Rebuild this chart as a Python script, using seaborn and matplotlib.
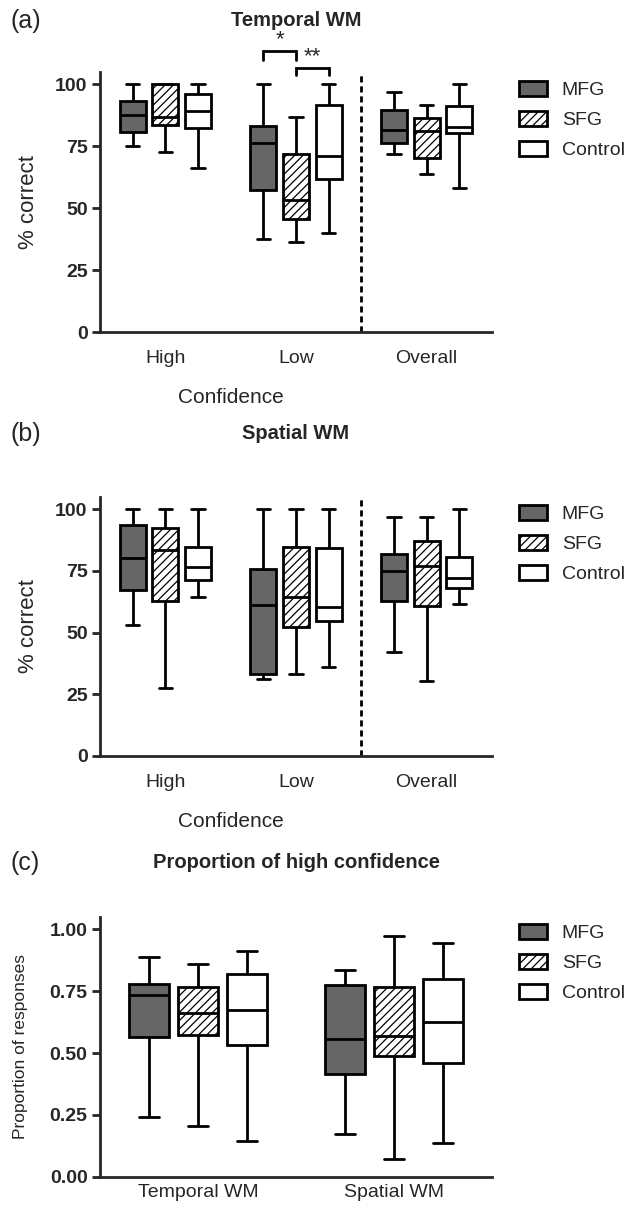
import numpy as np
import pandas as pd
import matplotlib
matplotlib.use("Agg")
import matplotlib.pyplot as plt
import seaborn as sns
from matplotlib.patches import Patch
from matplotlib.colors import same_color

# groups and categories
groups = ["MFG", "SFG", "Control"]
conf_cats = ["High", "Low", "Overall"]
task_cats = ["Temporal WM", "Spatial WM"]

# five-number summaries: [min, Q1, median, Q3, max]
# (a) Temporal WM, % correct
a_mfg = [[75.0, 80.7, 87.5, 93.3, 100], [37.6, 57.3, 76.4, 83.2, 100], [72.1, 76.4, 81.7, 89.5, 97.0]]
a_sfg = [[72.6, 83.6, 86.9, 100, 100], [36.3, 45.7, 53.5, 71.8, 86.9], [63.7, 70.4, 81.3, 86.4, 91.6]]
a_ctrl = [[66.4, 82.5, 89.1, 96.1, 100], [40.0, 61.9, 71.3, 91.6, 100], [58.2, 80.5, 83.0, 91.4, 100]]
# (b) Spatial WM, % correct
b_mfg = [[53.0, 67.3, 80.1, 93.6, 100], [31.4, 33.1, 61.1, 75.7, 100], [42.2, 63.0, 75.0, 81.8, 97.0]]
b_sfg = [[27.7, 62.8, 83.4, 92.4, 100], [33.1, 52.3, 64.3, 84.9, 100], [30.4, 61.0, 77.0, 87.0, 97.0]]
b_ctrl = [[64.6, 71.5, 76.8, 84.9, 100], [36.2, 54.9, 60.5, 84.2, 100], [61.6, 68.1, 72.2, 80.8, 100]]
# (c) proportion of high-confidence responses
c_mfg = [[0.240, 0.565, 0.735, 0.779, 0.888], [0.174, 0.417, 0.558, 0.777, 0.834]]
c_sfg = [[0.206, 0.574, 0.663, 0.765, 0.860], [0.070, 0.487, 0.570, 0.767, 0.975]]
c_ctrl = [[0.143, 0.534, 0.676, 0.819, 0.914], [0.138, 0.459, 0.625, 0.798, 0.945]]

pct_ticks = [0, 25, 50, 75, 100]
prop_ticks = [0.0, 0.25, 0.5, 0.75, 1.0]

sns.set_style("ticks")
plt.rcParams["font.family"] = ["Liberation Sans", "DejaVu Sans"]
plt.rcParams["hatch.linewidth"] = 0.9
plt.rcParams["hatch.color"] = "black"

MFG_COLOR = "#666666"
SFG_TMP = "#eeeeee"  # placeholder, swapped for white + hatch after drawing
palette = {"MFG": MFG_COLOR, "SFG": SFG_TMP, "Control": "white"}
HATCH = "////"
LW = 2


def long_df(stats, cats):
    rows = []
    for g in groups:
        for c, vals in zip(cats, stats[g]):
            for v in vals:
                rows.append((g, c, v))
    return pd.DataFrame(rows, columns=["group", "cat", "value"])


def draw(ax, df, cats, ylim, yticks, fmt, ylabel, ylabel_x, ylabel_size, xpad):
    sns.boxplot(data=df, x="cat", y="value", hue="group", order=cats,
                hue_order=groups, palette=palette, whis=(0, 100),
                showfliers=False, width=0.75, gap=0.2, linewidth=LW,
                linecolor="black", saturation=1, legend=False, ax=ax)
    for p in ax.patches:
        if same_color(p.get_facecolor(), SFG_TMP):
            p.set_facecolor("white")
            p.set_hatch(HATCH)
    ax.set_xlim(-0.5, len(cats) - 0.5)
    ax.set_ylim(*ylim)
    ax.set_yticks(yticks, labels=[fmt.format(t) for t in yticks],
                  fontsize=14, fontweight="bold")
    ax.set_xticks(range(len(cats)), labels=cats, fontsize=14)
    ax.tick_params(axis="y", width=LW, length=6, pad=3)
    ax.tick_params(axis="x", length=0, pad=xpad)
    for s in ["left", "bottom"]:
        ax.spines[s].set_linewidth(LW)
    sns.despine(ax=ax)
    ax.set_ylabel(ylabel, fontsize=ylabel_size)
    ax.yaxis.set_label_coords(ylabel_x, 0.5)
    ax.set_xlabel("")
    handles = [Patch(facecolor=MFG_COLOR, edgecolor="black", linewidth=LW),
               Patch(facecolor="white", edgecolor="black", linewidth=LW, hatch=HATCH),
               Patch(facecolor="white", edgecolor="black", linewidth=LW)]
    return handles


fig = plt.figure(figsize=(6.31, 12.08), dpi=100)
ax_a = fig.add_axes([0.1585, 0.7249, 0.6212, 0.2155])
ax_b = fig.add_axes([0.1585, 0.3742, 0.6212, 0.2144])
ax_c = fig.add_axes([0.1585, 0.0259, 0.6212, 0.2150])

df_a = long_df({"MFG": a_mfg, "SFG": a_sfg, "Control": a_ctrl}, conf_cats)
df_b = long_df({"MFG": b_mfg, "SFG": b_sfg, "Control": b_ctrl}, conf_cats)
df_c = long_df({"MFG": c_mfg, "SFG": c_sfg, "Control": c_ctrl}, task_cats)

panels = [
    (ax_a, df_a, conf_cats, (0, 105), pct_ticks, "{:d}", "% correct", -0.156, 16, 13, "(a)", "Temporal WM", 0.983, 0.933),
    (ax_b, df_b, conf_cats, (0, 105), pct_ticks, "{:d}", "% correct", -0.156, 16, 13, "(b)", "Spatial WM", 0.641, 0.582),
    (ax_c, df_c, task_cats, (0, 1.05), prop_ticks, "{:.2f}", "Proportion of responses", -0.184, 12.5, 5, "(c)", "Proportion of high confidence", 0.286, 0.235),
]

for ax, df, cats, ylim, yt, fmt, yl, ylx, yls, xpad, tag, title, ty, legy in panels:
    handles = draw(ax, df, cats, ylim, yt, fmt, yl, ylx, yls, xpad)
    fig.text(0.016, ty, tag, fontsize=18, ha="left", va="center")
    fig.text(0.1585 + 0.6212 / 2, ty, title, fontsize=14.5, fontweight="bold",
             ha="center", va="center")
    ax.legend(handles=handles, labels=groups, loc="upper left",
              bbox_to_anchor=(0.8225, legy), bbox_transform=fig.transFigure,
              frameon=False, fontsize=14, borderpad=0, borderaxespad=0,
              handlelength=1.45, handleheight=0.8, handletextpad=0.75,
              labelspacing=0.6)

# confidence panels: divider before "Overall" and x label
for ax in [ax_a, ax_b]:
    ax.axvline(1.5, color="black", linewidth=LW, linestyle=(0, (2.2, 1.4)))
    ax.set_xlabel("Confidence", fontsize=15)
    ax.xaxis.set_label_coords(0.334, -0.215)

# significance brackets in (a), Low group
off = 0.25
brackets = [(1 - off, 1, 113.5, 110, "*"), (1, 1 + off, 106.7, 103.6, "**")]
for x0, x1, ytop, ybot, star in brackets:
    ax_a.plot([x0, x0, x1, x1], [ybot, ytop, ytop, ybot], color="black",
              linewidth=LW, clip_on=False, solid_joinstyle="miter")
    ax_a.text((x0 + x1) / 2, ytop + 0.3, star, ha="center", va="bottom",
              fontsize=16, clip_on=False)

fig.savefig("out.png", dpi=100)
